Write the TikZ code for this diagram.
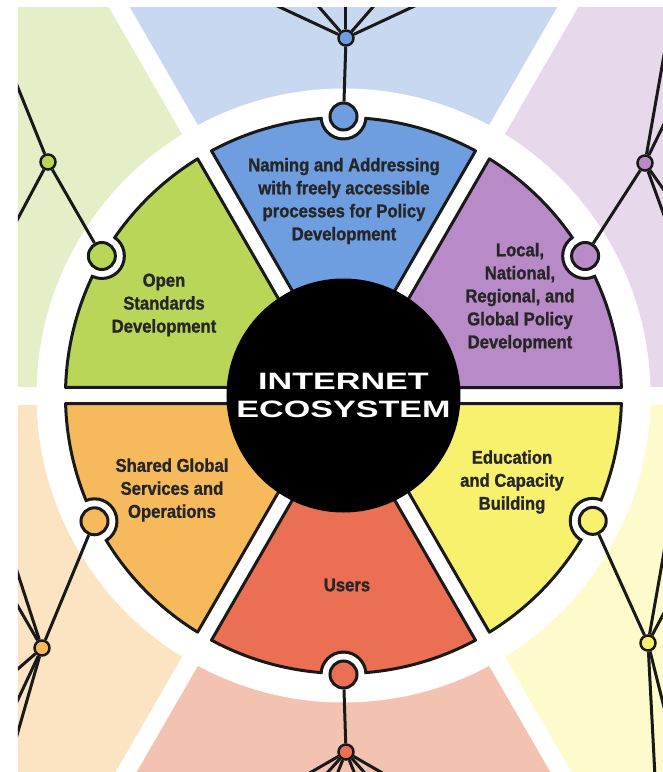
\documentclass[tikz,border=0pt]{standalone}
\usepackage{fontspec}
\setmainfont{Liberation Sans}
\newfontfamily\segfont{Liberation Sans}[FakeStretch=0.9, FakeBold=1.2]
\newfontfamily\corefont{Liberation Sans}[FakeStretch=1.44]
\usetikzlibrary{calc}

\definecolor{segblue}{HTML}{6E9EE0}
\definecolor{segpurple}{HTML}{B98AC8}
\definecolor{segyellow}{HTML}{F7F16E}
\definecolor{segred}{HTML}{EB6F52}
\definecolor{segorange}{HTML}{F6BA5C}
\definecolor{seggreen}{HTML}{BAD658}
\definecolor{bgblue}{HTML}{C8D8F0}
\definecolor{bgpurple}{HTML}{E8D8EC}
\definecolor{bgyellow}{HTML}{FDFBCB}
\definecolor{bgred}{HTML}{F4C2B0}
\definecolor{bggreen}{HTML}{E4EFC8}
\definecolor{bgorange}{HTML}{FCE4C2}

% one coloured piece of the wheel, #1 = middle angle
\newcommand\wheelpiece[1]{($(#1-30:60)+(#1+60:8)$) -- ($(#1-30:277.9)+(#1+60:8)$)
  arc[start angle=#1-28.35, end angle=#1+28.35, radius=278]
  -- ($(#1+30:60)+(#1-60:8)$) -- cycle}

\begin{document}
\begin{tikzpicture}[x=1pt, y=1pt,
          wire/.style = {line width=3pt, draw=black!90},
         piece/.style = {line width=3pt, line join=round, draw=black!90},
           hub/.style = {circle, fill=#1, draw=black!90, line width=3pt,
                         minimum size=27pt, inner sep=0pt},
          leaf/.style = {circle, fill=#1, draw=black!90, line width=2.5pt,
                         minimum size=15pt, inner sep=0pt},
         topic/.style = {align=center, inner sep=0pt, text=black!85,
                         font=\segfont\bfseries\fontsize{18.5}{23}\selectfont},
          core/.style = {circle, fill=black, minimum size=234pt, inner sep=0pt,
                         align=center, text=white,
                         font=\corefont\bfseries\fontsize{23.7}{27.5}\selectfont}
                    ]
\useasboundingbox (-343.5,-376.5) rectangle (319.5,395.5);
\fill[white] (-343.5,-376.5) rectangle (319.5,395.5);
% background wedges
\begin{scope}
\clip (-325.5,-376.5) rectangle (319.5,387.5);
\foreach \ang/\col in {90/bgblue, 30/bgpurple, 330/bgyellow,
                       270/bgred, 210/bgorange, 150/bggreen}
    \fill[\col] (0,0) -- (\ang-30:900) -- (\ang+30:900) -- cycle;
\foreach \ang in {0,60,...,300}
    \draw[white, line width=18pt] (0,0) -- (\ang:900);
\fill[white] (0,0) circle (307);
\end{scope}
% the six pieces, each with a notch round its hub
\foreach \ang/\col/\hang/\nm in {90/segblue/90/n, 30/segpurple/30/ne,
        330/segyellow/333.3/se, 270/segred/270/s,
        210/segorange/206.8/sw, 150/seggreen/150/nw}
{
    \filldraw[piece, fill=\col] \wheelpiece{\ang};
    \fill[white] (\hang:279) circle (21);
    \begin{scope}
        \clip \wheelpiece{\ang};
        \draw[piece] (\hang:279) circle (22.5);
    \end{scope}
    \node[hub=\col] (hub-\nm) at (\hang:279) {};
}
% outer nodes
\node[leaf=segblue]   (leaf-n)  at (2.5,357.5)    {};
\node[leaf=segpurple] (leaf-ne) at (301.5,232.5)  {};
\node[leaf=segyellow] (leaf-se) at (304.5,-247.5) {};
\node[leaf=segred]    (leaf-s)  at (2.5,-356.5)   {};
\node[leaf=segorange] (leaf-sw) at (-301.5,-252.5) {};
\node[leaf=seggreen]  (leaf-nw) at (-295.5,233.5) {};
\foreach \nm in {n,ne,se,s,sw,nw}
    \draw[wire] (hub-\nm) -- (leaf-\nm);
\begin{scope}
\clip (-325.5,-376.5) rectangle (319.5,387.5);
\foreach \nm/\fan in {n/{25,49,90,131,155}, s/{210,228,248,292,312,330},
        nw/{112,242}, sw/{108,120,221,245,254},
        ne/{64,80,290,305}, se/{62,80,273,284}}
    \foreach \a in \fan
        \draw[wire] (leaf-\nm.\a) -- ++(\a:200);
\end{scope}
% centre and labels
\node[core] (core) at (0,0) {INTERNET\\ECOSYSTEM};
\node[topic] (naming)    at (0.5,194.5)   {Naming and Addressing\\with freely accessible\\processes for Policy\\Development};
\node[topic] (policy)    at (176.5,98)    {Local,\\National,\\Regional, and\\Global Policy\\Development};
\node[topic] (standards) at (-179.5,90.5) {Open\\Standards\\Development};
\node[topic] (shared)    at (-171.5,-94.5) {Shared Global\\Services and\\Operations};
\node[topic] (education) at (168.5,-86.5) {Education\\and Capacity\\Building};
\node[topic] (users)     at (3.5,-189.5)  {Users};
\end{tikzpicture}
\end{document}
